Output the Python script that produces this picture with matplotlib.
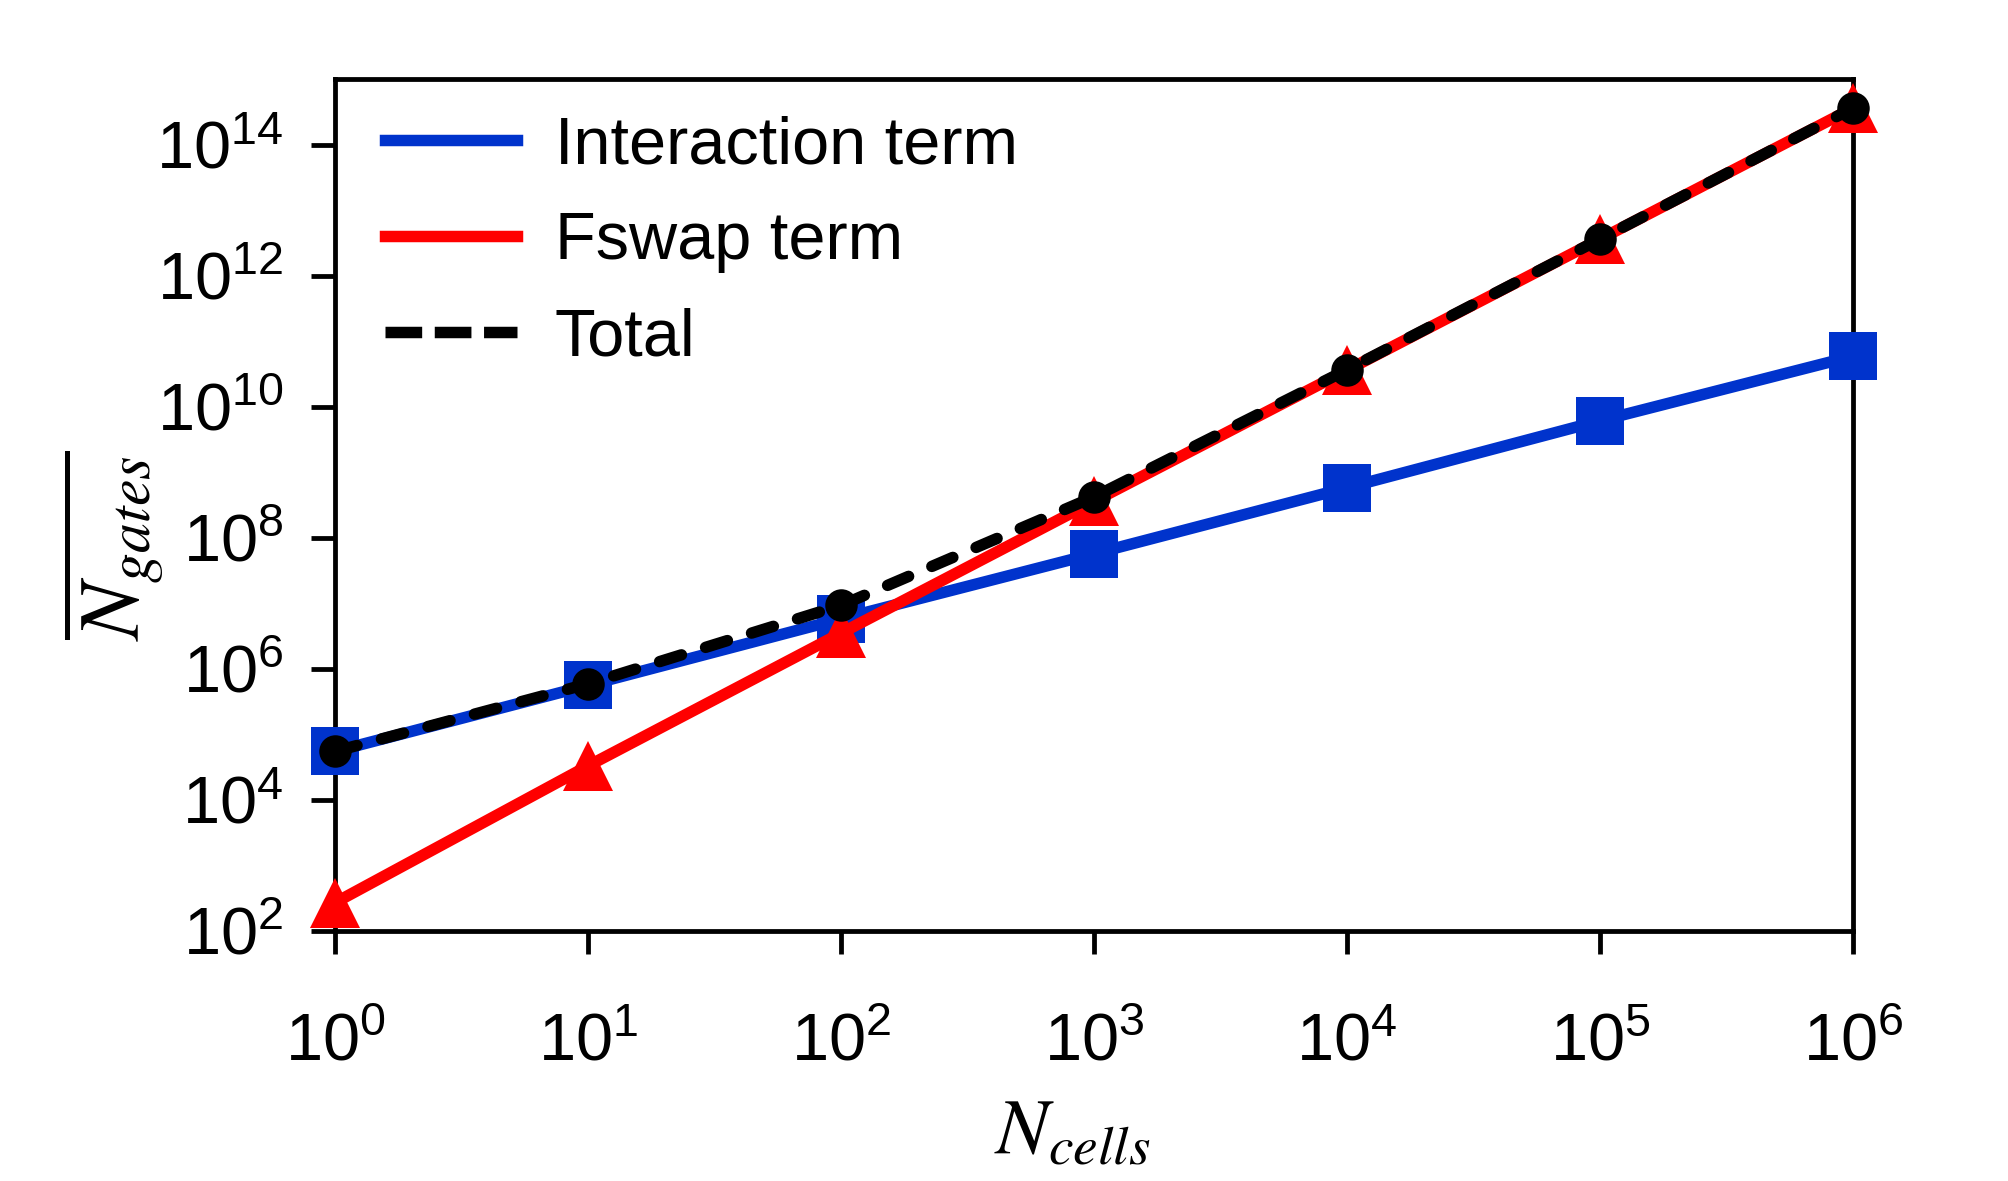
import matplotlib
matplotlib.use("Agg")
import matplotlib.pyplot as plt
from matplotlib.lines import Line2D
from matplotlib.ticker import FixedLocator, LogFormatterSciNotation, NullLocator

plt.rcParams["font.family"] = ["Liberation Sans", "DejaVu Sans"]
plt.rcParams["mathtext.fontset"] = "custom"
plt.rcParams["mathtext.rm"] = "Liberation Sans"
plt.rcParams["mathtext.it"] = "Liberation Sans:italic"

# values
n_cells = [1e0, 1e1, 1e2, 1e3, 1e4, 1e5, 1e6]
interaction = [5.5e4, 5.6e5, 5.8e6, 5.7e7, 5.8e8, 6.1e9, 5.9e10]
fswap = [2.7e2, 3.3e4, 3.5e6, 3.6e8, 3.6e10, 3.6e12, 3.6e14]
total = [5.5e4, 5.9e5, 9.3e6, 4.2e8, 3.66e10, 3.61e12, 3.6e14]
y_ticks = [1e2, 1e4, 1e6, 1e8, 1e10, 1e12, 1e14]

BLUE = "#0033cc"
RED = "#ff0000"
LW = 2.75

fig = plt.figure(figsize=(2008 / 300, 1181 / 300), dpi=300)
ax = fig.add_axes([0.1668, 0.2117, 0.7560, 0.7214])

ax.plot(n_cells, interaction, color=BLUE, lw=LW, marker="s", ms=11.6,
        markeredgewidth=0, solid_joinstyle="round", zorder=3, clip_on=False)
ax.plot(n_cells, fswap, color=RED, lw=LW, marker="^", ms=12.2,
        markeredgewidth=0, zorder=4, clip_on=False)
ax.plot(n_cells, total, color="black", lw=LW, ls=(0, (2.0, 2.2)),
        dash_capstyle="round", marker="o", ms=7.8, markeredgewidth=0,
        zorder=5, clip_on=False)

ax.set_xscale("log")
ax.set_yscale("log")
ax.set_xlim(1, 1e6)
ax.set_ylim(1e2, 1e15)

ax.xaxis.set_major_locator(FixedLocator(n_cells))
ax.xaxis.set_major_formatter(LogFormatterSciNotation())
ax.yaxis.set_major_locator(FixedLocator(y_ticks))
ax.yaxis.set_major_formatter(LogFormatterSciNotation())
ax.xaxis.set_minor_locator(NullLocator())
ax.yaxis.set_minor_locator(NullLocator())

for s in ax.spines.values():
    s.set_linewidth(1.15)
ax.tick_params(axis="x", direction="out", length=5.6, width=1.15,
               pad=14.0, labelsize=16)
ax.tick_params(axis="y", direction="out", length=5.8, width=1.15,
               pad=6.5, labelsize=16)

ax.set_xlabel(r"$N_{cells}$", fontsize=19, math_fontfamily="stix", va="center")
ax.xaxis.set_label_coords(0.486, -0.238)
ax.set_ylabel(r"$\overline{N_{gates}}$", fontsize=20.5, math_fontfamily="stix",
              va="center")
ax.yaxis.set_label_coords(-0.146, 0.452)

handles = [
    Line2D([], [], color=BLUE, lw=LW),
    Line2D([], [], color=RED, lw=LW),
    Line2D([], [], color="black", lw=LW, ls=(0, (3.2, 1.1)), dash_capstyle="butt"),
]
labels = ["Interaction term", "Fswap term", "Total"]
ax.legend(handles, labels, loc="upper left", bbox_to_anchor=(0.0066, 1.0046),
          frameon=False, fontsize=16, handlelength=1.98, handletextpad=0.57,
          labelspacing=0.51, borderaxespad=0.0, borderpad=0.6)

fig.savefig("out.png", dpi=300)
